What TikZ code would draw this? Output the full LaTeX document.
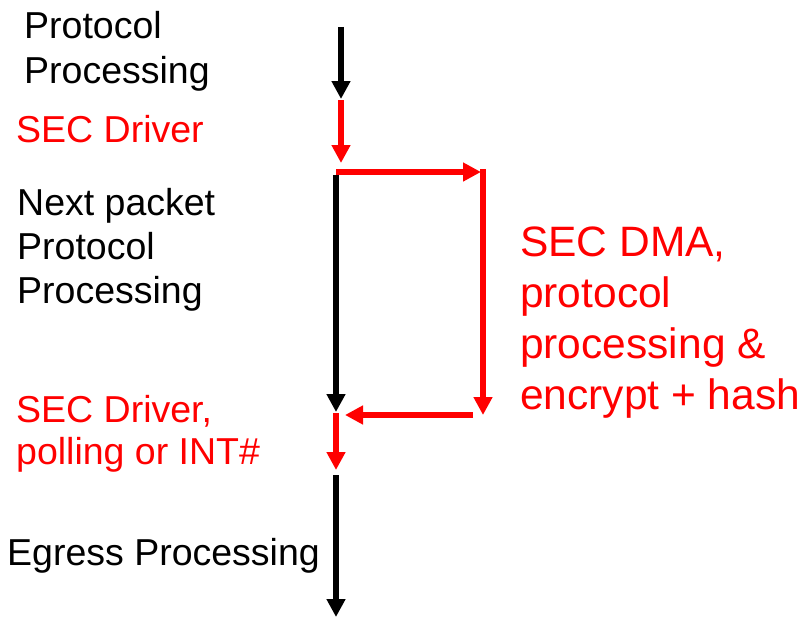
\documentclass[tikz,border=0pt]{standalone}
\usepackage{fontspec}
\setmainfont{Liberation Sans}
\usetikzlibrary{arrows.meta}
\definecolor{secred}{RGB}{255,0,0}
\tikzset{
  flow/.style={line width=6pt,-{Triangle[width=18pt,length=18pt]}},
  lbl/.style={anchor=base west,inner sep=0pt,align=left,font=\fontsize{37.5}{44}\selectfont},
  biglbl/.style={anchor=base west,inner sep=0pt,align=left,font=\fontsize{42.5}{51}\selectfont},
}
\begin{document}
\begin{tikzpicture}[x=1pt,y=-1pt]
\useasboundingbox (0,0) rectangle (803,618);
% coordinates
\coordinate (a1s) at (341,27);
\coordinate (a1e) at (341,99);
\coordinate (a2s) at (341,100);
\coordinate (a2e) at (341,163);
\coordinate (hs) at (336,172);
\coordinate (he) at (481,172);
\coordinate (vs) at (483,169);
\coordinate (ve) at (483,415);
\coordinate (bs) at (336,175);
\coordinate (be) at (336,412);
\coordinate (rs) at (473,415);
\coordinate (re) at (345,415);
\coordinate (ss) at (336,413);
\coordinate (se) at (336,470);
\coordinate (es) at (336,475);
\coordinate (ee) at (336,617);
% arrows
\draw[flow,black] (a1s) -- (a1e);
\draw[flow,secred] (a2s) -- (a2e);
\draw[flow,black] (bs) -- (be);
\draw[flow,secred] (hs) -- (he);
\draw[flow,secred] (vs) -- (ve);
\draw[flow,secred] (rs) -- (re);
\draw[flow,secred] (ss) -- (se);
\draw[flow,black] (es) -- (ee);
% labels (base anchor = baseline of last line)
\node[lbl] (t1) at (24,83) {Protocol\\Processing};
\node[lbl,text=secred] (t2) at (16,142) {SEC Driver};
\node[lbl] (t3) at (17,303) {Next packet\\Protocol\\Processing};
\node[lbl,text=secred,font=\fontsize{37.5}{42}\selectfont] (t4) at (16,464) {SEC Driver,\\polling or INT\#};
\node[lbl] (t5) at (7,565) {Egress Processing};
\node[biglbl,text=secred] (t6) at (520,409) {SEC DMA,\\protocol\\processing \&\\encrypt + hash};
\end{tikzpicture}
\end{document}
